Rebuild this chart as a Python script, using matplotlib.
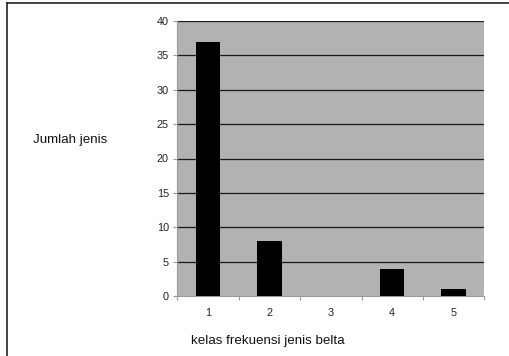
import matplotlib
matplotlib.use("Agg")
import matplotlib.pyplot as plt
from matplotlib.lines import Line2D

categories = [1, 2, 3, 4, 5]
values = [37, 8, 0, 4, 1]
y_ticks = [0, 5, 10, 15, 20, 25, 30, 35, 40]

plt.rcParams['font.family'] = ['Liberation Sans', 'DejaVu Sans']

fig = plt.figure(figsize=(5.1, 3.56), dpi=100)
fig.patch.set_facecolor('white')

ax = fig.add_axes([177.3 / 510, 1 - 296 / 356, 307 / 510, 275 / 356])
ax.set_facecolor('#b2b2b2')

ax.bar(categories, values, width=0.4, color='black', linewidth=0, zorder=3)

ax.set_xlim(0.5, 5.5)
ax.set_ylim(0, 40)
ax.set_yticks(y_ticks)
ax.set_yticklabels([str(t) for t in y_ticks], fontsize=7.8, color='#222222')
for t in y_ticks[1:]:
    ax.axhline(t, color='#1a1a1a', linewidth=0.9, zorder=2)

ax.set_xticks(categories)
ax.set_xticklabels([str(c) for c in categories], fontsize=7.8, color='#222222')
ax.tick_params(axis='x', which='major', length=0, pad=9)
ax.set_xticks([0.5, 1.5, 2.5, 3.5, 4.5, 5.5], minor=True)
ax.tick_params(axis='x', which='minor', length=3, color='#999999', width=0.8, direction='out')
ax.tick_params(axis='y', length=3, color='#999999', width=0.8, direction='out', pad=3)

for s in ['top', 'right']:
    ax.spines[s].set_visible(False)
ax.spines['left'].set_color('#999999')
ax.spines['bottom'].set_color('#999999')
ax.spines['left'].set_linewidth(0.8)
ax.spines['bottom'].set_linewidth(0.8)

fig.text(33 / 510, 1 - 140 / 356, 'Jumlah jenis', fontsize=9.6, ha='left', va='center', color='#111111')
fig.text(268 / 510, 1 - 341 / 356, 'kelas frekuensi jenis belta', fontsize=9.6, ha='center', va='center', color='#111111')

# outer frame (top and left edges visible)
fig.add_artist(Line2D([7.3 / 510, 1.0], [1 - 3.3 / 356, 1 - 3.3 / 356], transform=fig.transFigure, color='#222222', linewidth=1.2))
fig.add_artist(Line2D([7.3 / 510, 7.3 / 510], [0, 1 - 3.3 / 356], transform=fig.transFigure, color='#222222', linewidth=1.2))

fig.savefig('out.png', dpi=100)
